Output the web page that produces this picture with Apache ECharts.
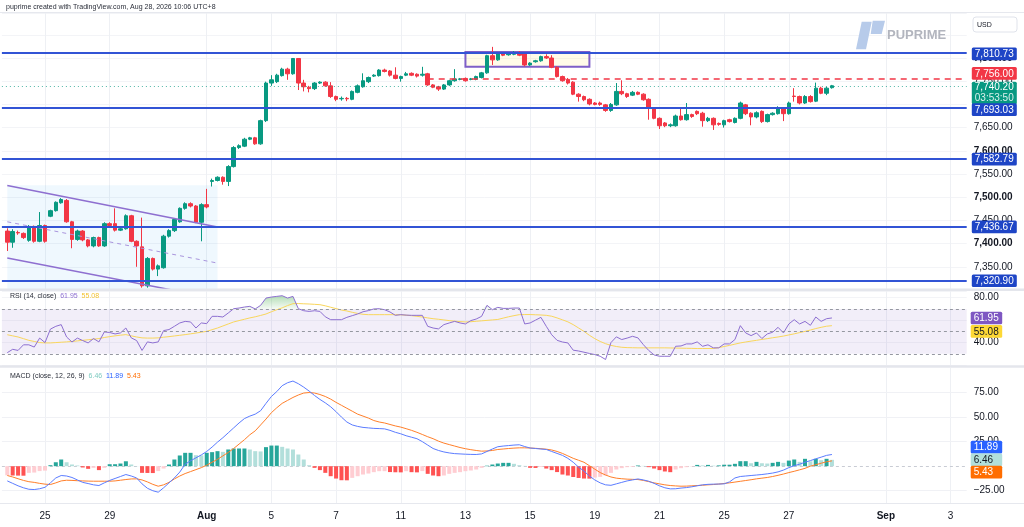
<!DOCTYPE html>
<html>
<head>
<meta charset="utf-8">
<title>PUPRIME chart</title>
<script src="https://cdn.jsdelivr.net/npm/echarts@6.0.0/dist/echarts.min.js"></script>
<style>
html,body{margin:0;padding:0;background:#ffffff;overflow:hidden}
#chart{width:1024px;height:527px}
</style>
</head>
<body>
<div id="chart"></div>
<script>
// ---------------- data ----------------
const SLOT_COUNT = 180;
const FIRST_BAR = 1;
const dateTickIndex = [8,20,38,50,62,74,86,98,110,122,134,146,164,176];
const dateTickLabel = ['25','29','Aug','5','7','11','13','15','19','21','25','27','Sep','3'];
const boldDateLabels = ['Aug','Sep'];

const opens = [
7427,7403,7424,7422,7407,7437,7405,7439,7459,7471,
7488,7493,7447,7409,7427,7408,7395,7413,7395,7443,
7443,7429,7432,7460,7405,7393,7309,7368,7345,7348,
7416,7428,7447,7476,7486,7481,7446,7484,7534,7536,
7543,7534,7566,7607,7610,7625,7628,7615,7665,7746,
7749,7762,7776,7766,7799,7746,7737,7734,7746,7748,
7740,7717,7712,7713,7711,7726,7738,7749,7761,7762,
7774,7772,7763,7756,7763,7767,7765,7763,7766,7742,
7738,7733,7742,7751,7754,7756,7754,7754,7758,7768,
7805,7796,7809,7807,7808,7812,7810,7785,7792,7794,
7803,7800,7780,7760,7754,7748,7722,7717,7711,7703,
7703,7699,7687,7699,7728,7723,7720,7726,7722,7711,
7692,7670,7660,7654,7654,7675,7667,7678,7685,7681,
7665,7670,7659,7656,7667,7661,7670,7699,7681,7673,
7685,7663,7678,7680,7692,7680,7718,7717,7703,7717,
7707,7735,7724,7736];
const highs = [
7433,7431,7428,7424,7440,7439,7468,7441,7473,7491,
7498,7496,7449,7430,7429,7410,7415,7415,7446,7446,
7476,7435,7463,7462,7407,7456,7371,7370,7355,7419,
7431,7455,7478,7489,7489,7483,7487,7518,7540,7545,
7545,7569,7610,7614,7628,7630,7630,7667,7749,7763,
7766,7779,7779,7800,7800,7753,7740,7748,7750,7750,
7748,7719,7717,7716,7730,7743,7767,7760,7765,7776,
7777,7774,7780,7762,7770,7769,7767,7781,7768,7744,
7740,7744,7753,7776,7757,7758,7757,7762,7770,7807,
7824,7812,7811,7812,7815,7815,7812,7791,7796,7805,
7808,7806,7782,7762,7757,7750,7724,7719,7713,7705,
7706,7701,7703,7746,7752,7725,7729,7728,7724,7713,
7694,7672,7662,7659,7678,7692,7703,7680,7687,7684,
7673,7672,7661,7667,7669,7672,7706,7701,7683,7685,
7687,7680,7683,7696,7694,7706,7735,7719,7720,7720,
7747,7738,7738,7742];
const lows = [
7384,7391,7419,7410,7404,7402,7403,7402,7457,7469,
7486,7445,7390,7406,7405,7392,7392,7393,7393,7437,
7426,7427,7430,7403,7350,7305,7305,7342,7330,7346,
7413,7425,7445,7473,7478,7444,7405,7476,7523,7534,
7527,7524,7564,7604,7608,7623,7613,7613,7662,7740,
7746,7760,7753,7764,7731,7728,7726,7731,7744,7738,
7714,7707,7708,7707,7709,7724,7736,7746,7759,7760,
7769,7760,7754,7749,7761,7761,7758,7760,7740,7735,
7729,7731,7740,7749,7752,7749,7752,7752,7756,7766,
7785,7794,7804,7805,7806,7804,7782,7783,7790,7792,
7798,7778,7758,7749,7743,7720,7706,7707,7698,7698,
7697,7684,7684,7697,7720,7714,7718,7720,7708,7667,
7668,7647,7651,7651,7652,7665,7665,7671,7677,7652,
7662,7645,7654,7650,7661,7659,7668,7677,7655,7670,
7660,7661,7676,7678,7664,7678,7706,7700,7701,7704,
7705,7722,7720,7734];
const closes = [
7403,7426,7423,7413,7437,7405,7439,7405,7471,7489,
7495,7447,7409,7427,7408,7395,7413,7395,7443,7439,
7429,7432,7460,7405,7395,7309,7368,7345,7352,7416,
7428,7452,7476,7486,7481,7446,7484,7479,7536,7543,
7534,7566,7607,7611,7625,7628,7615,7665,7746,7753,
7763,7776,7766,7799,7746,7738,7734,7746,7748,7740,
7717,7711,7713,7712,7728,7740,7751,7758,7763,7774,
7771,7763,7756,7760,7766,7763,7761,7765,7742,7737,
7733,7742,7751,7755,7755,7751,7755,7760,7768,7805,
7796,7810,7806,7809,7812,7806,7785,7789,7794,7803,
7800,7780,7760,7751,7746,7722,7717,7710,7701,7700,
7700,7687,7700,7728,7723,7717,7726,7722,7710,7692,
7670,7654,7654,7656,7675,7667,7678,7674,7680,7665,
7670,7656,7657,7665,7663,7670,7703,7680,7673,7682,
7663,7678,7681,7693,7680,7703,7717,7703,7717,7706,
7735,7724,7735,7740.2];

const rsiValues = [
31,34,33,38,38,36,44,40,52,54.5,
56,45,40.5,44,41.8,39.7,43.6,40.6,49.5,49,
47.7,48.6,53,44.2,41.8,33,40.6,39.7,40.6,50.7,
51.6,54.5,57.5,58.9,58.4,53,57.5,56.9,63.4,63.4,
62.8,66.4,70.2,70.8,71.7,72.3,70,73.2,79.7,80.6,
81.2,81.8,79.7,81.2,70.2,68.4,67.8,68.4,67.8,63,
60.4,60.4,60.4,62.5,64,65.5,67.5,68.5,70,70.2,
69.3,67.3,64.3,64.9,64.5,64.3,64.3,64.3,54.5,53,
52.2,56,57.5,58.9,57.5,56.6,59.6,61,63.4,73.2,
69.3,71.4,70.5,70.5,70.8,70.8,56.6,57.5,60,62.5,
54.5,47,42,40.5,39.7,33.2,32.5,31.4,30.3,29.3,
27.8,24.9,40,45.1,42.7,44,45.6,44.2,38.2,33,
29,27.8,27.8,27.8,36.7,37,38.8,38.8,40.6,36.7,
38,35.3,35.3,38.8,38.8,42.7,55.1,48.6,46.2,48.6,
43.6,47.7,49.2,53.6,48.6,56.6,60.4,56.6,58.9,55.4,
62.8,58.9,61.3,61.95];
const rsiMaValues = [
47,46,45,43.5,42,41,40,39.7,39.7,40,
40.3,40.6,41,41.5,42,42.5,43,43.6,44.5,45.3,
46,46.6,47.1,46,45,44.2,44,44,44.2,44.8,
45.3,45.9,46.5,47.1,47.8,48.5,49.3,50,51.5,53,
54.8,56.6,58.4,59.6,60.8,62,63,64.2,65.5,67.5,
69.3,71,73,74.7,74.8,74.6,74.4,74.1,73.8,72.8,
71.5,70.3,69,68.2,67,66,65.2,64.9,64.9,64.9,
64.9,64.9,64.9,64.8,64.4,64,63.4,62.8,62,61.3,
60.8,60.2,59.6,59.1,58.7,58.4,58.6,59,59.4,59.8,
60.2,60.6,61.8,63,64,64.9,65,65,64.8,64.6,
64.3,63.5,62,60.3,58.5,56,53,50,46.5,43.5,
41,39,37.5,36.5,35.8,35.5,35.4,35.3,35.3,35.3,
35.3,35.3,35.3,35.2,35.1,35,34.9,34.8,34.7,34.7,
34.7,34.7,35.5,36.5,37.5,38.6,39.7,40.5,41.3,42,
42.8,43.5,44.3,45,45.8,46.8,47.8,48.9,50,51.2,
52.5,53.6,54.6,55.08];

const macdValues = [
-15,-17.5,-20,-22,-23.5,-23.8,-23,-21.5,-17,-12,
-9.5,-10,-11.5,-14,-16.5,-17.7,-19,-19.7,-17,-14.5,
-12.5,-10.5,-8.5,-10,-12,-18,-22.5,-25,-26.5,-22,
-17,-12,-6,2,5.5,8.5,11.5,15,19.5,24.5,
29,34,39,44,48.5,51,53,56.5,64,71,
76,82,85,86.7,84,80.5,76.5,72,68,64.5,
60.5,55.5,50,45,42,40.5,39.5,39,38.5,38.3,
38,36.5,34.5,33,31,29.5,28,25,21.5,18,
16,14.5,13.5,12.8,12.5,12.2,12,11.9,12.5,15,
17.5,19.8,20.5,21,21.5,21.8,20,18.5,18,17.5,
17,15,13,11,8,4,-1,-5,-10,-14,
-17,-19,-19.5,-18,-16.5,-15,-14,-13,-14,-15.3,
-17.5,-20,-22,-23.1,-23,-22.3,-21.8,-21,-20,-19,
-18.5,-18.3,-18.2,-18,-16,-12,-10.5,-10,-9.5,-9,
-8.5,-7.8,-7,-5.8,-4,-1.5,0.5,2,4,5.7,
7.5,9.2,11,11.89];
const signalValues = [
-9.5,-11,-12.8,-14.5,-15.8,-16.5,-17.5,-18.3,-18.7,-17,
-15,-14.3,-14.5,-14.8,-15,-15.2,-15.3,-15.3,-15.3,-15.3,
-15,-14.3,-13.6,-13,-12.9,-14,-16,-18.5,-20.4,-19,
-16.5,-13,-10,-7.5,-5.5,-3.5,-1.5,1,4,7,
10.5,14,18,22.5,27,32,36,42,48,54.5,
59.5,64,67,70,72.5,74.5,75,74.5,73,71,
68.3,65,62,59,56,53,51,49,46.5,45,
44,42.5,41,39.8,38.2,36.5,34.5,32.3,30,28,
25.5,23.5,22,20.5,19,17.8,16.8,16,15.3,15.5,
16,17,17.5,18,18.4,18.7,18.7,18.5,18.2,17.8,
17.3,16.5,15,13,10.5,8,6,4,0.5,-3,
-6.5,-9,-11,-12.2,-12.8,-13.2,-13.4,-13.6,-14.5,-15.7,
-17,-18,-19,-19.7,-20.1,-20.4,-20.3,-20,-19.7,-19.4,
-19,-18.7,-18.2,-17.6,-17,-16.2,-15.4,-14.6,-13.8,-12.9,
-12.2,-11.5,-10.5,-9.3,-8,-6.5,-5.2,-3.7,-2.2,0,
1.5,3,4.5,5.43];
const histValues = [
-9.3,-9.5,-9.6,-9.7,-6.8,-6.5,-5,-4.5,1,4,
6.8,4,1.7,0.7,-1.3,-2.7,-1.7,-4,-1.7,2,
2,2.7,5,1.7,0.2,-6.8,-6.9,-7,-5,-2.4,
1.7,6.8,10.9,13.6,13.6,11.2,11,13.6,14.3,15.3,
14.6,17,18,18,18,17,15.3,15,19.4,21,
21,19.7,18,17,11.9,6.8,1,-1.7,-4,-6.8,
-10.2,-12.6,-14.3,-14.4,-11.9,-10.2,-8.5,-7.5,-6.1,-5.1,
-5.1,-6,-6.2,-6.3,-5.1,-6.1,-6.3,-5,-7.8,-9.5,
-10.2,-9.5,-7.8,-6.8,-6.1,-5.1,-4.4,-3.4,-1.7,0.5,
1.7,2.7,3.4,3.4,2.4,1,0.3,-1.7,-1.8,-0.8,
-2.4,-4,-6,-8.5,-9.5,-11,-12,-12.6,-12.7,-11.6,
-10.9,-9.5,-6.8,-3.4,-2,-1,-0.7,0.7,0.3,-1,
-2.4,-4,-5.4,-6.1,-3.4,-2,-1,-0.3,1.3,0.8,
1.3,0.5,0.8,1.5,1.5,2.4,5.1,5.1,3,4.4,
3,2.7,3.4,4.4,3.4,5.7,6.8,4.4,7.5,5,
7.5,6.1,7.5,6.46];

const priceTicks = [7350,7400,7450,7500,7550,7600,7650,7700,7750,7800];
const rsiTicks = [40,60,80];
const rsiLevels = [70,50,30];
const rsiOverbought = 70;
const macdTicks = [-25,25,50,75];

const supportLevels = [7810.73, 7693.03, 7582.79, 7436.67, 7320.90];
const resistanceLevel = 7756.00;
const resistanceStartIndex = 79;
const lastPrice = 7740.20;
const countdownText = '03:53:50';

const boxIndex = [86, 109];
const boxPrice = [7813, 7781];

const channelIndex = [1, 40];
const channelUpper = [7525, 7436];
const channelMiddle = [7447, 7358];
const channelLower = [7369, 7281];
const channelFillPrice = [7526, 7300];

// ---------------- helpers ----------------
const FONT = '"Liberation Sans", Arial, sans-serif';
const cats = Array.from({length: SLOT_COUNT}, (_, i) => String(i));
const tickSet = new Set(dateTickIndex);
function pad(arr) { const out = cats.map(() => null); arr.forEach((v, k) => { out[FIRST_BAR + k] = v; }); return out; }
function seg(vals) { const out = cats.map(() => null); out[channelIndex[0]] = vals[0]; out[channelIndex[1]] = vals[1]; return out; }
function fmt(v) {
  const neg = v < 0; const s = Math.abs(v).toFixed(2).split('.');
  return (neg ? '\u2212' : '') + s[0].replace(/\B(?=(\d{3})+(?!\d))/g, ',') + '.' + s[1];
}
const candle = cats.map(() => '-');
opens.forEach((o, k) => { candle[FIRST_BAR + k] = [o, closes[k], lows[k], highs[k]]; });

const histColors = histValues.map((h, k) => {
  const prev = k > 0 ? histValues[k - 1] : h;
  if (h >= 0) return h >= prev ? '#26a69a' : '#b2dfdb';
  return h < prev ? '#ff5252' : '#ffcdd2';
});
const histData = pad(histValues.map((v, k) => ({value: v, itemStyle: {color: histColors[k]}})));

const rsiBase = pad(rsiValues.map(() => rsiOverbought));
const rsiExcess = pad(rsiValues.map(v => Math.max(0, v - rsiOverbought)));

const GRID_L = 1.9, GRID_R = 57.3;
function xAxisCfg(gi, showLabel) {
  return {
    type: 'category', gridIndex: gi, data: cats, boundaryGap: false,
    axisLine: {show: false}, axisTick: {show: false},
    axisLabel: showLabel ? {
      show: true, interval: (i) => tickSet.has(i), margin: 8, hideOverlap: false,
      color: '#131722', fontSize: 10, fontFamily: FONT,
      formatter: (v) => { const k = dateTickIndex.indexOf(Number(v)); if (k < 0) return '';
        const t = dateTickLabel[k]; return boldDateLabels.includes(t) ? '{b|' + t + '}' : t; },
      rich: {b: {fontWeight: 'bold', fontSize: 10, color: '#131722', fontFamily: FONT}}
    } : {show: false},
    splitLine: {show: true, interval: (i) => tickSet.has(i), lineStyle: {color: '#eef0f4', width: 1}}
  };
}

const option = {
  animation: false,
  backgroundColor: '#ffffff',
  grid: [
    {left: GRID_L, right: GRID_R, top: 13, height: 277},
    {left: GRID_L, right: GRID_R, top: 291, height: 74},
    {left: GRID_L, right: GRID_R, top: 368, height: 135}
  ],
  xAxis: [xAxisCfg(0, false), xAxisCfg(1, false), xAxisCfg(2, true)],
  yAxis: [
    {type: 'value', gridIndex: 0, position: 'right', min: 7300, max: 7897, interval: 50,
     axisLine: {show: false}, axisTick: {show: false},
     axisLabel: {margin: 7, color: '#131722', fontSize: 10, fontFamily: FONT, hideOverlap: false,
       formatter: v => { if (!priceTicks.includes(v)) return ''; const s = fmt(v); return v % 100 === 0 ? '{b|' + s + '}' : s; },
       rich: {b: {fontWeight: 'bold', fontSize: 10, color: '#131722', fontFamily: FONT}}},
     splitLine: {show: true, lineStyle: {color: '#f3f4f7'}}},
    {type: 'value', gridIndex: 1, position: 'right', min: 20, max: 86, interval: 20,
     axisLine: {show: false}, axisTick: {show: false},
     axisLabel: {margin: 7, color: '#131722', fontSize: 10, fontFamily: FONT,
       formatter: v => rsiTicks.includes(v) ? fmt(v) : ''},
     splitLine: {show: true, lineStyle: {color: '#f3f4f7'}}},
    {type: 'value', gridIndex: 2, position: 'right', min: -37.5, max: 100, interval: 12.5,
     axisLine: {show: false}, axisTick: {show: false},
     axisLabel: {margin: 7, color: '#131722', fontSize: 10, fontFamily: FONT,
       formatter: v => macdTicks.includes(v) ? fmt(v) : ''},
     splitLine: {show: false}}
  ],
  series: [
    // channel fill + lines
    {type: 'line', xAxisIndex: 0, yAxisIndex: 0, data: seg(channelUpper), connectNulls: true, z: 4,
     symbol: 'none', lineStyle: {color: '#8e6fd0', width: 1.5},
     markArea: {silent: true, itemStyle: {color: 'rgba(33,150,243,0.07)'},
       data: [[{coord: [channelIndex[0], channelFillPrice[0]]}, {coord: [channelIndex[1], channelFillPrice[1]]}]]}},
    {type: 'line', xAxisIndex: 0, yAxisIndex: 0, data: seg(channelMiddle), connectNulls: true, z: 4,
     symbol: 'none', lineStyle: {color: '#a995dd', width: 1, type: [4, 4]}},
    {type: 'line', xAxisIndex: 0, yAxisIndex: 0, data: seg(channelLower), connectNulls: true, z: 4,
     symbol: 'none', lineStyle: {color: '#8e6fd0', width: 1.5}},
    // candles
    {type: 'candlestick', xAxisIndex: 0, yAxisIndex: 0, data: candle, barWidth: 4, z: 3,
     itemStyle: {color: '#089981', color0: '#f23645', borderColor: '#089981', borderColor0: '#f23645', borderWidth: 1},
     markArea: {silent: true, z: 1,
       itemStyle: {color: 'rgba(255,235,130,0.18)', borderColor: '#7e5fc8', borderWidth: 2},
       data: [[{coord: [boxIndex[0], boxPrice[0]]}, {coord: [boxIndex[1], boxPrice[1]]}]]}},
    // overlay lines
    {type: 'line', xAxisIndex: 0, yAxisIndex: 0, data: cats.map(() => null), z: 6, symbol: 'none',
     markLine: {silent: true, symbol: 'none', label: {show: false}, animation: false,
       data: [
         {yAxis: lastPrice, lineStyle: {color: '#089981', type: [1, 3], width: 1, opacity: 0.7}},
         ...supportLevels.map(v => ({yAxis: v, lineStyle: {color: '#3254d5', type: 'solid', width: 2}})),
         [{coord: [resistanceStartIndex, resistanceLevel], lineStyle: {color: '#f23645', type: [6, 5], width: 1.5}},
          {coord: [SLOT_COUNT - 1, resistanceLevel]}]
       ]}},
    // RSI
    {type: 'line', xAxisIndex: 1, yAxisIndex: 1, data: rsiBase, stack: 'ob', symbol: 'none', z: 2,
     lineStyle: {opacity: 0, width: 0},
     markArea: {silent: true, itemStyle: {color: 'rgba(126,87,194,0.10)'}, data: [[{yAxis: 30}, {yAxis: 70}]]},
     markLine: {silent: true, symbol: 'none', label: {show: false},
       lineStyle: {color: '#9598a1', type: [3, 3], width: 1},
       data: rsiLevels.map(v => ({yAxis: v}))}},
    {type: 'line', xAxisIndex: 1, yAxisIndex: 1, data: rsiExcess, stack: 'ob', symbol: 'none', z: 2,
     lineStyle: {opacity: 0, width: 0},
     areaStyle: {color: new echarts.graphic.LinearGradient(0, 0, 0, 1, [
       {offset: 0, color: 'rgba(76,175,80,0.6)'}, {offset: 1, color: 'rgba(76,175,80,0.08)'}])}},
    {type: 'line', xAxisIndex: 1, yAxisIndex: 1, data: pad(rsiMaValues), symbol: 'none', z: 3,
     lineStyle: {color: '#f9d65c', width: 1}},
    {type: 'line', xAxisIndex: 1, yAxisIndex: 1, data: pad(rsiValues), symbol: 'none', z: 4,
     lineStyle: {color: '#8d6fd1', width: 1}},
    // MACD
    {type: 'line', xAxisIndex: 2, yAxisIndex: 2, data: cats.map(() => null), z: 0, symbol: 'none',
     markLine: {silent: true, symbol: 'none', label: {show: false}, z: 0,
       data: [
         ...macdTicks.map(v => ({yAxis: v, lineStyle: {color: '#f0f1f5', type: 'solid', width: 1}})),
         {yAxis: 0, lineStyle: {color: '#c9ccd4', type: [3, 3], width: 1}}
       ]}},
    {type: 'bar', xAxisIndex: 2, yAxisIndex: 2, data: histData, barWidth: 4, z: 2},
    {type: 'line', xAxisIndex: 2, yAxisIndex: 2, data: pad(signalValues), symbol: 'none', z: 3,
     lineStyle: {color: '#ff7f2a', width: 1}},
    {type: 'line', xAxisIndex: 2, yAxisIndex: 2, data: pad(macdValues), symbol: 'none', z: 4,
     lineStyle: {color: '#5b7cff', width: 1}}
  ]
};

const chart = echarts.init(document.getElementById('chart'), null, {renderer: 'canvas'});
chart.setOption(option);

// ---------------- overlays ----------------
const g = [];
function txt(x, y, text, font, fill, z) {
  g.push({type: 'text', x: x, y: y, z: z || 100, silent: true,
    style: {text: text, font: font, fill: fill, verticalAlign: 'middle', align: 'left'}});
}
function box(x, yc, w, text, bg, fg) {
  g.push({type: 'rect', z: 100, silent: true, shape: {x: x, y: yc - 6.3, width: w, height: 12.6, r: 1.5}, style: {fill: bg}});
  txt(x + 3, yc + 0.5, text, '10px ' + FONT, fg, 101);
}
const yP = v => chart.convertToPixel({yAxisIndex: 0}, v);
const yR = v => chart.convertToPixel({yAxisIndex: 1}, v);
const yM = v => chart.convertToPixel({yAxisIndex: 2}, v);

// pane separators
g.push({type: 'rect', z: 90, silent: true, shape: {x: 0, y: 12, width: 1024, height: 1}, style: {fill: '#e6e8ee'}});
g.push({type: 'rect', z: 90, silent: true, shape: {x: 0, y: 288.5, width: 1024, height: 2.5}, style: {fill: '#e4e6ec'}});
g.push({type: 'rect', z: 90, silent: true, shape: {x: 0, y: 365.2, width: 1024, height: 2.5}, style: {fill: '#e4e6ec'}});
g.push({type: 'rect', z: 90, silent: true, shape: {x: 0, y: 503, width: 1024, height: 1}, style: {fill: '#e6e8ee'}});

// header
txt(6, 7.5, 'puprime created with TradingView.com, Aug 28, 2026 10:06 UTC+8', '7px ' + FONT, '#2a2e39');

// watermark
g.push({type: 'polygon', z: 60, silent: true, shape: {points: [[861.7,21.7],[871.7,21.7],[866,49.3],[856,49.3]]}, style: {fill: '#b7cbea'}});
g.push({type: 'polygon', z: 60, silent: true, shape: {points: [[872.7,20.7],[885,20.7],[881.7,34],[870.7,34]]}, style: {fill: '#b7cbea'}});
txt(887, 35.5, 'PUPRIME', 'bold 13px ' + FONT, '#b2b5be', 60);

// USD box
g.push({type: 'rect', z: 100, silent: true, shape: {x: 973, y: 17, width: 44, height: 15, r: 3}, style: {fill: '#ffffff', stroke: '#e0e3eb', lineWidth: 1}});
txt(977, 24.8, 'USD', '7px ' + FONT, '#131722', 101);

// price boxes
const PX = 971.8, PW = 45;
box(PX, yP(supportLevels[0]) + 0.8, PW, fmt(supportLevels[0]), '#1e45c6', '#ffffff');
box(PX, yP(resistanceLevel) - 5, PW, fmt(resistanceLevel), '#f23645', '#ffffff');
{
  const yc = yP(lastPrice);
  g.push({type: 'rect', z: 100, silent: true, shape: {x: PX, y: yc - 4, width: PW, height: 22.6, r: 1.5}, style: {fill: '#089981'}});
  txt(PX + 3, yc + 1.9, fmt(lastPrice), '10px ' + FONT, '#ffffff', 101);
  txt(PX + 3, yc + 12.3, countdownText, '10px ' + FONT, 'rgba(255,255,255,0.85)', 101);
}
box(PX, yP(supportLevels[1]) + 2, PW, fmt(supportLevels[1]), '#1e45c6', '#ffffff');
box(PX, yP(supportLevels[2]) + 0.3, PW, fmt(supportLevels[2]), '#1e45c6', '#ffffff');
box(PX, yP(supportLevels[3]) + 0.3, PW, fmt(supportLevels[3]), '#1e45c6', '#ffffff');
box(PX, yP(supportLevels[4]) + 0.5, PW, fmt(supportLevels[4]), '#1e45c6', '#ffffff');

// RSI boxes + legend
const rsiLast = rsiValues[rsiValues.length - 1], rsiMaLast = rsiMaValues[rsiMaValues.length - 1];
const r1 = yR(rsiLast);
box(970.7, r1, 31.5, rsiLast.toFixed(2), '#7e57c2', '#ffffff');
box(970.7, r1 + 13.4, 31.5, rsiMaLast.toFixed(2), '#fdd835', '#131722');
g.push({type: 'text', x: 10, y: 296.3, z: 100, silent: true, style: {
  text: '{a|RSI (14, close)}  {p|' + rsiLast.toFixed(2) + '}  {y|' + rsiMaLast.toFixed(2) + '}',
  verticalAlign: 'middle', align: 'left', font: '7px ' + FONT,
  rich: {a: {fill: '#2a2e39', font: '7px ' + FONT}, p: {fill: '#8d6fd1', font: '7px ' + FONT}, y: {fill: '#f2c230', font: '7px ' + FONT}}}});

// MACD boxes + legend
const hLast = histValues[histValues.length - 1], mLast = macdValues[macdValues.length - 1], sLast = signalValues[signalValues.length - 1];
const m0 = yM(hLast);
box(970.7, m0 - 12.7, 31.5, mLast.toFixed(2), '#2962ff', '#ffffff');
box(970.7, m0, 31.5, hLast.toFixed(2), '#b2dfdb', '#131722');
box(970.7, m0 + 12.3, 31.5, sLast.toFixed(2), '#ff6d00', '#ffffff');
g.push({type: 'text', x: 10, y: 375.7, z: 100, silent: true, style: {
  text: '{a|MACD (close, 12, 26, 9)}  {h|' + hLast.toFixed(2) + '}  {m|' + mLast.toFixed(2) + '}  {s|' + sLast.toFixed(2) + '}',
  verticalAlign: 'middle', align: 'left', font: '7px ' + FONT,
  rich: {a: {fill: '#2a2e39', font: '7px ' + FONT}, h: {fill: '#7fcbc1', font: '7px ' + FONT},
         m: {fill: '#2962ff', font: '7px ' + FONT}, s: {fill: '#ff6d00', font: '7px ' + FONT}}}});

chart.setOption({graphic: g});
</script>
</body>
</html>
